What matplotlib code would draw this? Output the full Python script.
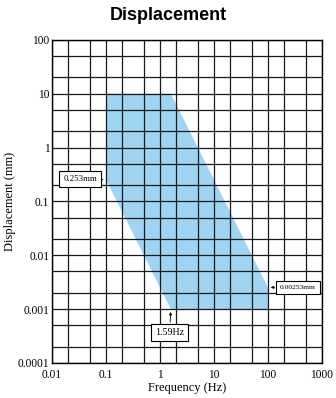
import matplotlib
matplotlib.use("Agg")
import matplotlib.pyplot as plt
from matplotlib.ticker import FixedLocator, NullFormatter

# vibration envelope (Hz, mm)
freq = [0.1, 1.59, 100, 100, 1.59, 0.1]
disp = [10, 10, 0.00253, 0.001, 0.001, 0.253]

x_ticks = [0.01, 0.1, 1, 10, 100, 1000]
x_labels = ["0.01", "0.1", "1", "10", "100", "1000"]
y_ticks = [0.0001, 0.001, 0.01, 0.1, 1, 10, 100]
y_labels = ["0.0001", "0.001", "0.01", "0.1", "1", "10", "100"]

serif = ["Liberation Serif", "DejaVu Serif"]

fig = plt.figure(figsize=(3.36, 3.98), dpi=100)
ax = fig.add_axes([0.155, 0.088, 0.803, 0.812])
ax.set_xscale("log")
ax.set_yscale("log")
ax.set_xlim(0.01, 1000)
ax.set_ylim(0.0001, 100)

ax.fill(freq, disp, color="#9fd4f2", lw=0, zorder=1)

# 1-2-5 grid
minor_x = [d * m for d in x_ticks[:-1] for m in (2, 5)]
minor_y = [d * m for d in y_ticks[:-1] for m in (2, 5)]
ax.xaxis.set_major_locator(FixedLocator(x_ticks))
ax.yaxis.set_major_locator(FixedLocator(y_ticks))
ax.xaxis.set_minor_locator(FixedLocator(minor_x))
ax.yaxis.set_minor_locator(FixedLocator(minor_y))
ax.xaxis.set_minor_formatter(NullFormatter())
ax.yaxis.set_minor_formatter(NullFormatter())
ax.set_xticklabels(x_labels, family=serif, fontsize=8.3)
ax.set_yticklabels(y_labels, family=serif, fontsize=8.3)
ax.tick_params(which="both", length=0, pad=2)
ax.tick_params(axis="x", pad=4.5)
ax.grid(True, which="both", color="#1a1a1a", lw=0.9, zorder=2)
ax.set_axisbelow(False)
for s in ax.spines.values():
    s.set_linewidth(1.0)
    s.set_zorder(3)

ax.set_xlabel("Frequency (Hz)", family=serif, fontsize=9, labelpad=0.5)
ax.set_ylabel("Displacement (mm)", family=serif, fontsize=9, labelpad=1)
fig.text(0.5, 0.962, "Displacement", ha="center", va="center",
         fontsize=13, fontweight="bold", family=["Liberation Sans", "DejaVu Sans"])

arrow = dict(arrowstyle="-|>", color="black", lw=0.6, mutation_scale=4,
             shrinkA=1, shrinkB=2)


def boxed(pad):
    return dict(boxstyle=f"square,pad={pad}", fc="white", ec="black", lw=0.8)


ax.annotate("0.253mm", xy=(0.1, 0.253), xytext=(0.068, 0.26),
            ha="right", va="center", fontsize=6.3, family=serif,
            bbox=boxed(0.45), arrowprops=arrow, zorder=5)
ax.annotate("0.00253mm", xy=(100, 0.00253), xytext=(168, 0.00253),
            ha="left", va="center", fontsize=5.4, family=serif,
            bbox=boxed(0.5), arrowprops=arrow, zorder=5)
ax.annotate("1.59Hz", xy=(1.59, 0.001), xytext=(1.5, 0.00037),
            ha="center", va="center", fontsize=7.2, family=serif,
            bbox=boxed(0.38), arrowprops=arrow, zorder=5)

fig.savefig("out.png", dpi=100)
